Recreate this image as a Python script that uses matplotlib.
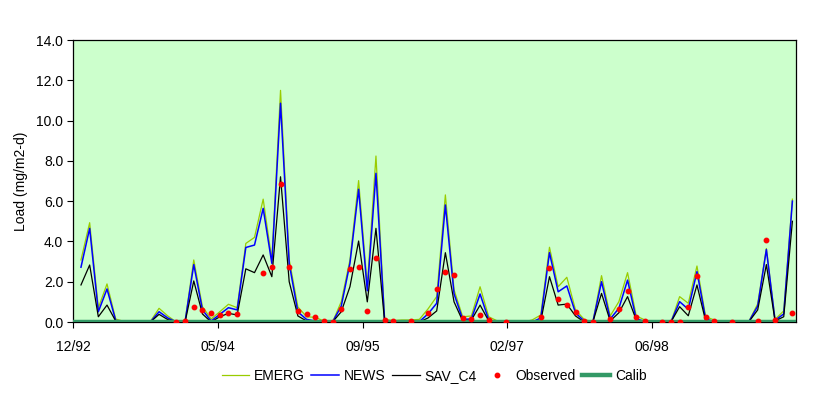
import numpy as np
import matplotlib
matplotlib.use("Agg")
from matplotlib import pyplot as plt

# monthly model output, one value per month starting 01/93
emerg = [3.08, 4.93, 0.70, 1.89, 0.15, 0.02, 0.0, 0.0, 0.03, 0.68,
         0.30, 0.0, 0.05, 3.08, 0.76, 0.15, 0.51, 0.88, 0.71, 3.90,
         4.20, 6.10, 3.08, 11.50, 3.10, 0.75, 0.26, 0.23, 0.05, 0.0,
         1.01, 3.08, 7.02, 1.80, 8.24, 0.13, 0.07, 0.10, 0.10, 0.13,
         0.65, 1.26, 6.31, 1.60, 0.26, 0.30, 1.75, 0.26, 0.05, 0.0,
         0.0, 0.0, 0.10, 0.35, 3.71, 1.75, 2.22, 0.60, 0.13, 0.0,
         2.30, 0.30, 1.01, 2.45, 0.30, 0.10, 0.0, 0.0, 0.0, 1.26,
         0.93, 2.78, 0.26, 0.10, 0.0, 0.0, 0.0, 0.05, 0.90, 3.65,
         0.13, 0.55, 6.10]
news = [2.72, 4.65, 0.51, 1.64, 0.08, 0.0, 0.0, 0.0, 0.0, 0.51,
        0.20, 0.0, 0.02, 2.85, 0.60, 0.05, 0.38, 0.71, 0.60, 3.70,
        3.82, 5.64, 2.91, 10.86, 2.90, 0.50, 0.13, 0.05, 0.0, 0.0,
        0.79, 2.91, 6.59, 1.55, 7.38, 0.05, 0.0, 0.0, 0.0, 0.02,
        0.40, 0.93, 5.81, 1.40, 0.13, 0.15, 1.39, 0.10, 0.0, 0.0,
        0.0, 0.0, 0.0, 0.20, 3.44, 1.50, 1.79, 0.45, 0.05, 0.0,
        2.00, 0.15, 0.68, 2.08, 0.15, 0.03, 0.0, 0.0, 0.0, 1.01,
        0.63, 2.50, 0.15, 0.02, 0.0, 0.0, 0.0, 0.03, 0.79, 3.60,
        0.08, 0.40, 6.00]
sav_c4 = [1.84, 2.83, 0.26, 0.84, 0.05, 0.0, 0.0, 0.0, 0.0, 0.38,
          0.12, 0.0, 0.0, 2.04, 0.40, 0.0, 0.26, 0.43, 0.35, 2.64,
          2.45, 3.33, 2.25, 7.21, 2.00, 0.30, 0.05, 0.03, 0.0, 0.0,
          0.51, 1.75, 4.02, 1.00, 4.65, 0.0, 0.0, 0.0, 0.0, 0.0,
          0.20, 0.55, 3.44, 1.00, 0.05, 0.10, 0.84, 0.05, 0.0, 0.0,
          0.0, 0.0, 0.0, 0.05, 2.25, 0.84, 0.89, 0.30, 0.0, 0.0,
          1.42, 0.05, 0.46, 1.26, 0.10, 0.0, 0.0, 0.0, 0.0, 0.76,
          0.31, 1.84, 0.05, 0.0, 0.0, 0.0, 0.0, 0.02, 0.60, 2.85,
          0.05, 0.26, 5.00]
nan = np.nan
observed = [nan, nan, nan, nan, nan, nan, nan, nan, nan, nan,
            nan, 0.0, 0.05, 0.76, 0.62, 0.46, 0.36, 0.46, 0.42, nan,
            nan, 2.45, 2.75, 6.84, 2.75, 0.56, 0.38, 0.23, 0.07, 0.0,
            0.66, 2.65, 2.75, 0.56, 3.19, 0.10, 0.07, nan, 0.07, nan,
            0.46, 1.65, 2.50, 2.33, 0.22, 0.16, 0.37, 0.12, nan, 0.0,
            nan, nan, nan, 0.26, 2.70, 1.16, 0.86, 0.51, 0.07, 0.02,
            nan, 0.15, 0.65, 1.55, 0.26, 0.07, nan, 0.0, 0.0, 0.0,
            0.76, 2.28, 0.23, 0.07, nan, 0.0, nan, nan, 0.07, 4.07,
            0.10, nan, 0.46]
calib_level = 0.0

tick_labels = ['12/92', '05/94', '09/95', '02/97', '06/98']
x_start = -0.92     # axis starts a bit before the first month
tick_step = 16.69   # months between labelled ticks
x_end = 82.38

months = np.arange(len(emerg))

plt.rcParams['font.family'] = ['Liberation Sans', 'DejaVu Sans']
fig = plt.figure(figsize=(8.29, 3.96), dpi=100)
ax = fig.add_axes([73 / 829, 1 - 322 / 396, (795.7 - 73) / 829, (322 - 40) / 396])
ax.set_facecolor('#CCFFCC')

ax.plot(months, emerg, color='#99CC00', lw=0.9, label='EMERG', zorder=2)
ax.plot(months, news, color='#0000FF', lw=1.1, label='NEWS', zorder=2.1)
ax.plot(months, sav_c4, color='black', lw=0.9, label='SAV_C4', zorder=2.2)
ax.plot(months, observed, ls='none', marker='o', ms=3.2, color='#FF0000',
        mec='#FF0000', label='Observed', zorder=4)
ax.axhline(calib_level, color='#339966', lw=3.2, label='Calib', zorder=3)

ax.set_xlim(x_start, x_end)
ax.set_ylim(0, 14)
ax.set_yticks(np.arange(0, 14.1, 2))
ax.set_yticklabels(['%.1f' % v for v in np.arange(0, 14.1, 2)], fontsize=10)
ax.set_xticks([x_start + k * tick_step for k in range(len(tick_labels))])
ax.set_xticklabels(tick_labels, fontsize=10)
ax.tick_params(axis='y', direction='out', length=4, width=0.8, pad=3)
ax.tick_params(axis='x', direction='out', length=4, width=0.8, pad=9)
for s in ax.spines.values():
    s.set_linewidth(0.9)
    s.set_color('black')

ax.set_ylabel('Load (mg/m2-d)', fontsize=10)
ax.yaxis.set_label_coords(-0.062, 0.5)

fig.legend(loc='center', bbox_to_anchor=(434 / 829, 1 - 376 / 396), ncol=5,
           frameon=False, fontsize=10, handlelength=2.0, handletextpad=0.35,
           columnspacing=0.45, borderaxespad=0)

fig.savefig('out.png', dpi=100, facecolor='white')
